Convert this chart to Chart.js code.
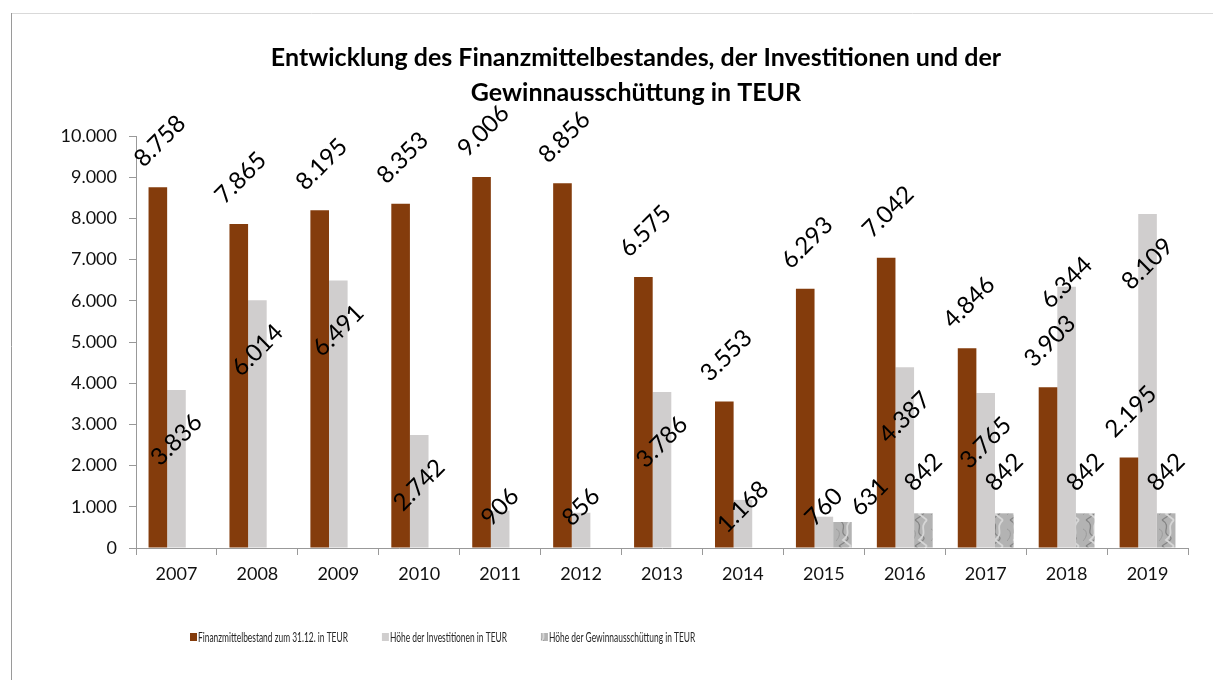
<!DOCTYPE html>
<html>
<head>
<meta charset="utf-8">
<script src="https://cdn.jsdelivr.net/npm/chart.js@4.4.1/dist/chart.umd.min.js"></script>
<style>
    html, body { margin: 0; padding: 0; background: #fff; }
    #wrap { position: relative; width: 1213px; height: 680px; }
</style>
</head>
<body>
<div id="wrap"><canvas id="myBarChart" width="1213" height="680"></canvas></div>
<script>
// Werte in TEUR
const years = ['2007', '2008', '2009', '2010', '2011', '2012', '2013', '2014', '2015', '2016', '2017', '2018', '2019'];
const finanzmittel = [8758, 7865, 8195, 8353, 9006, 8856, 6575, 3553, 6293, 7042, 4846, 3903, 2195];
const investitionen = [3836, 6014, 6491, 2742, 906, 856, 3786, 1168, 760, 4387, 3765, 6344, 8109];
const gewinnausschuettung = [null, null, null, null, null, null, null, null, 631, 842, 842, 842, 842];
const yMax = 10000;
const yStep = 1000;

// Beschriftungen, die Excel manuell verschoben hat (dataset:index -> dx, dy zum Balkenende)
const labelNudges = {
    '1:11': [0, -4],
    '2:8': [27, -25]
};

function formatDE(v) {
    return String(v).replace(/\B(?=(\d{3})+(?!\d))/g, '.');
}

// Marmor-Füllung der Gewinnausschüttung
function makeMarble() {
    const c = document.createElement('canvas');
    c.width = 19;
    c.height = 26;
    const g = c.getContext('2d');
    g.fillStyle = '#b3b3b3';
    g.fillRect(0, 0, 19, 26);
    g.strokeStyle = '#858585';
    g.lineWidth = 1.3;
    g.beginPath();
    g.moveTo(3, 0);
    g.bezierCurveTo(13, 6, 2, 12, 10, 16);
    g.bezierCurveTo(16, 19, 7, 23, 3, 26);
    g.stroke();
    g.strokeStyle = '#d6d6d6';
    g.lineWidth = 1.8;
    g.beginPath();
    g.moveTo(15, 0);
    g.bezierCurveTo(6, 8, 17, 12, 7, 20);
    g.lineTo(15, 26);
    g.stroke();
    g.strokeStyle = '#9c9c9c';
    g.lineWidth = 1;
    g.beginPath();
    g.moveTo(0, 9);
    g.bezierCurveTo(5, 11, 4, 17, 0, 21);
    g.stroke();
    return g.createPattern(c, 'repeat');
}

const frame = {
    id: 'frame',
    beforeDraw(chart) {
        const ctx = chart.ctx;
        ctx.save();
        ctx.fillStyle = '#fff';
        ctx.fillRect(0, 0, chart.width, chart.height);
        ctx.lineWidth = 1;
        ctx.strokeStyle = '#d9d9d9';
        ctx.beginPath();
        ctx.moveTo(11, 13.5);
        ctx.lineTo(chart.width, 13.5);
        ctx.stroke();
        ctx.strokeStyle = '#9a9a9a';
        ctx.beginPath();
        ctx.moveTo(11.5, 13);
        ctx.lineTo(11.5, chart.height);
        ctx.stroke();
        ctx.restore();
    }
};

// Titel etwas nach rechts, wie im Original
const titleShift = {
    id: 'titleShift',
    afterLayout(chart) {
        if (chart.titleBlock) chart.titleBlock.left = 84;
    }
};

const valueLabels = {
    id: 'valueLabels',
    afterDatasetsDraw(chart) {
        const ctx = chart.ctx;
        const base = chart.scales.y.getPixelForValue(0);
        ctx.save();
        ctx.font = '24px Lato';
        ctx.fillStyle = '#000';
        ctx.textAlign = 'center';
        ctx.textBaseline = 'middle';
        chart.data.datasets.forEach((ds, i) => {
            const meta = chart.getDatasetMeta(i);
            meta.data.forEach((bar, j) => {
                const v = ds.data[j];
                if (v == null) return;
                let x = bar.x, y;
                if (i === 0) { x += 2; y = bar.y - 46; }
                else if (i === 1) { y = Math.min(bar.y + 50, base - 41); }
                else { y = bar.y - 41; }
                const n = labelNudges[i + ':' + j];
                if (n) { x = bar.x + n[0]; y = bar.y + n[1]; }
                ctx.save();
                ctx.translate(x, y);
                ctx.rotate(-Math.PI / 4);
                ctx.fillText(formatDE(v), 0, 0);
                ctx.restore();
            });
        });
        ctx.restore();
    }
};

// schmale Legende wie im Original
const squeezedLegend = {
    id: 'squeezedLegend',
    afterDraw(chart) {
        const ctx = chart.ctx;
        const y = 637;
        const squeeze = 0.6;
        let x = 190;
        ctx.save();
        ctx.font = '14px Lato';
        ctx.textBaseline = 'middle';
        chart.data.datasets.forEach((ds) => {
            ctx.fillStyle = ds.backgroundColor;
            ctx.fillRect(x, y - 4, 7, 8);
            const w = ctx.measureText(ds.label).width * squeeze;
            ctx.save();
            ctx.translate(x + 8, y);
            ctx.scale(squeeze, 1);
            ctx.fillStyle = '#262626';
            ctx.fillText(ds.label, 0, 0);
            ctx.restore();
            x += 8 + w + 34;
        });
        ctx.restore();
    }
};

const ctx = document.getElementById('myBarChart').getContext('2d');

new Chart(ctx, {
    type: 'bar',
    data: {
        labels: years,
        datasets: [
            {
                label: 'Finanzmittelbestand zum 31.12. in TEUR',
                data: finanzmittel,
                backgroundColor: '#843c0c'
            },
            {
                label: 'Höhe der Investitionen in TEUR',
                data: investitionen,
                backgroundColor: '#d0cece'
            },
            {
                label: 'Höhe der Gewinnausschüttung in TEUR',
                data: gewinnausschuettung,
                backgroundColor: makeMarble()
            }
        ]
    },
    options: {
        responsive: false,
        animation: false,
        layout: {
            padding: { left: 20, right: 25, top: 0, bottom: 92 }
        },
        datasets: {
            bar: { categoryPercentage: 0.69, barPercentage: 1.0 }
        },
        plugins: {
            legend: { display: false },
            tooltip: { enabled: false },
            title: {
                display: true,
                text: ['Entwicklung des Finanzmittelbestandes, der Investitionen und der', 'Gewinnausschüttung in TEUR'],
                color: '#000',
                font: { family: 'Lato', size: 25, weight: 'bold', lineHeight: 1.38 },
                padding: { top: 41, bottom: 26 }
            }
        },
        scales: {
            x: {
                grid: { display: true, drawOnChartArea: false, offset: true, tickLength: 7, color: '#999' },
                border: { color: '#999' },
                ticks: { color: '#111', font: { family: 'Lato', size: 18 }, padding: 8, maxRotation: 0 },
                afterFit: (s) => { s.height = 40; }
            },
            y: {
                min: 0,
                max: yMax,
                grid: { drawOnChartArea: false, tickLength: 7, color: '#999' },
                border: { color: '#999' },
                ticks: {
                    stepSize: yStep,
                    color: '#111',
                    font: { family: 'Lato', size: 18 },
                    padding: 12,
                    callback: (v) => formatDE(v)
                },
                afterFit: (s) => { s.width = 116; }
            }
        }
    },
    plugins: [frame, titleShift, valueLabels, squeezedLegend]
});
</script>
</body>
</html>
